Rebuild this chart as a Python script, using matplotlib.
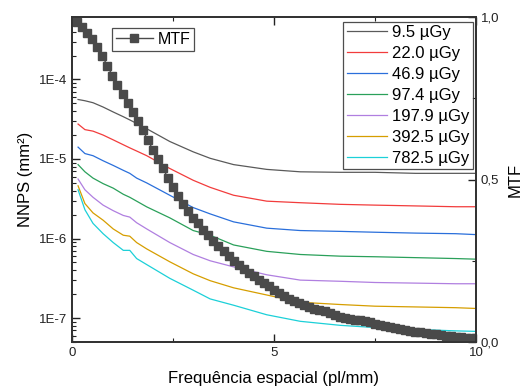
import matplotlib
matplotlib.use("Agg")
import matplotlib.pyplot as plt
from matplotlib.ticker import LogLocator, FixedLocator, NullFormatter, FuncFormatter
import math

plt.rcParams['font.family'] = ['Liberation Sans', 'DejaVu Sans']

# ---------------- data ----------------
freq = [0.15, 0.32, 0.52, 0.77, 1.02, 1.27, 1.43, 1.6, 1.85, 2.42,
        3.0, 3.42, 4.0, 4.82, 5.65, 6.64, 7.5, 8.5, 9.5, 10.0]

doses = ["9.5 µGy", "22.0 µGy", "46.9 µGy", "97.4 µGy",
         "197.9 µGy", "392.5 µGy", "782.5 µGy"]

nnps_9_5 = [5.6e-5, 5.4e-5, 5.1e-5, 4.5e-5, 3.9e-5, 3.4e-5, 3.1e-5, 2.8e-5, 2.4e-5, 1.66e-5,
            1.23e-5, 1.02e-5, 8.5e-6, 7.4e-6, 6.9e-6, 6.8e-6, 6.8e-6, 6.6e-6, 6.6e-6, 6.6e-6]
nnps_22_0 = [2.75e-5, 2.34e-5, 2.24e-5, 2.0e-5, 1.74e-5, 1.51e-5, 1.38e-5, 1.26e-5, 1.10e-5, 7.6e-6,
             5.4e-6, 4.4e-6, 3.5e-6, 2.95e-6, 2.82e-6, 2.69e-6, 2.63e-6, 2.57e-6, 2.51e-6, 2.51e-6]
nnps_46_9 = [1.41e-5, 1.17e-5, 1.10e-5, 9.5e-6, 8.3e-6, 7.2e-6, 6.6e-6, 5.75e-6, 5.0e-6, 3.5e-6,
             2.45e-6, 2.04e-6, 1.62e-6, 1.35e-6, 1.26e-6, 1.23e-6, 1.20e-6, 1.17e-6, 1.15e-6, 1.12e-6]
nnps_97_4 = [8.5e-6, 6.9e-6, 5.75e-6, 4.9e-6, 4.3e-6, 3.6e-6, 3.3e-6, 2.95e-6, 2.5e-6, 1.82e-6,
             1.26e-6, 1.10e-6, 8.3e-7, 6.9e-7, 6.3e-7, 6.0e-7, 5.9e-7, 5.75e-7, 5.6e-7, 5.5e-7]
nnps_197_9 = [5.6e-6, 4.1e-6, 3.3e-6, 2.63e-6, 2.24e-6, 1.95e-6, 1.86e-6, 1.58e-6, 1.32e-6, 8.9e-7,
              6.3e-7, 5.25e-7, 4.4e-7, 3.5e-7, 3.0e-7, 2.9e-7, 2.8e-7, 2.75e-7, 2.7e-7, 2.7e-7]
nnps_392_5 = [4.6e-6, 2.75e-6, 2.1e-6, 1.7e-6, 1.32e-6, 1.10e-6, 1.07e-6, 8.9e-7, 7.4e-7, 5.1e-7,
              3.6e-7, 2.95e-7, 2.4e-7, 1.95e-7, 1.58e-7, 1.48e-7, 1.41e-7, 1.38e-7, 1.35e-7, 1.32e-7]
nnps_782_5 = [4.1e-6, 2.3e-6, 1.55e-6, 1.15e-6, 8.9e-7, 7.1e-7, 7.1e-7, 5.6e-7, 4.7e-7, 3.16e-7,
              2.24e-7, 1.74e-7, 1.45e-7, 1.10e-7, 9.1e-8, 8.1e-8, 7.6e-8, 7.2e-8, 6.9e-8, 6.8e-8]

nnps_series = [nnps_9_5, nnps_22_0, nnps_46_9, nnps_97_4, nnps_197_9, nnps_392_5, nnps_782_5]
colors = ['#5a5a5a', '#f23c3c', '#2a6fdb', '#2aa05a', '#b07fe0', '#d69e00', '#1cd0d8']

mtf_freq = [i * 0.125 for i in range(81)]
mtf = [1.000, 0.985, 0.970, 0.952, 0.932, 0.908, 0.880, 0.850, 0.820, 0.792,
       0.764, 0.736, 0.708, 0.680, 0.652, 0.622, 0.592, 0.563, 0.534, 0.505,
       0.476, 0.450, 0.425, 0.402, 0.382, 0.366, 0.346, 0.330, 0.312, 0.295,
       0.280, 0.265, 0.250, 0.238, 0.224, 0.212, 0.202, 0.192, 0.182, 0.172,
       0.160, 0.150, 0.141, 0.133, 0.126, 0.119, 0.113, 0.108, 0.103, 0.098,
       0.094, 0.089, 0.083, 0.078, 0.074, 0.071, 0.069, 0.067, 0.065, 0.061,
       0.056, 0.051, 0.048, 0.045, 0.043, 0.040, 0.037, 0.034, 0.032, 0.030,
       0.028, 0.026, 0.024, 0.021, 0.019, 0.017, 0.015, 0.014, 0.013, 0.012,
       0.011]

# ---------------- figure ----------------
fig = plt.figure(figsize=(5.24, 3.91), dpi=100)
ax = fig.add_axes([72/524, 1-342/391, 404/524, 325/391])
ax2 = ax.twinx()

lines = []
for vals, lab, c in zip(nnps_series, doses, colors):
    ln, = ax.plot(freq, vals, color=c, lw=0.9, label=lab)
    lines.append(ln)

ax.set_yscale('log')
ax.set_xlim(0, 10)
ax.set_ylim(5.0e-8, 6.1e-4)

mln, = ax2.plot(mtf_freq, mtf, color='#4a4a4a', lw=1.0, marker='s', ms=5.3,
                mec='#4a4a4a', mfc='#4a4a4a', label='MTF')
ax2.set_ylim(0, 1)

# ticks
ax.xaxis.set_major_locator(FixedLocator([0, 5, 10]))
ax.xaxis.set_minor_locator(FixedLocator([2.5, 7.5]))
ax.yaxis.set_major_locator(LogLocator(base=10, numticks=20))
ax.yaxis.set_minor_locator(LogLocator(base=10, subs=range(2, 10), numticks=20))
ax.yaxis.set_minor_formatter(NullFormatter())

def sci(v, pos):
    e = int(round(math.log10(v)))
    return "1E%d" % e
ax.yaxis.set_major_formatter(FuncFormatter(sci))

ax2.yaxis.set_major_locator(FixedLocator([0, 0.5, 1.0]))
ax2.yaxis.set_minor_locator(FixedLocator([0.25, 0.75]))
ax2.yaxis.set_major_formatter(FuncFormatter(lambda v, p: ("%.1f" % v).replace('.', ',')))

ax.tick_params(which='both', direction='in', top=True, right=False, labelsize=9.5, colors='#222222')
ax.tick_params(which='major', length=6, width=1.0)
ax.tick_params(which='minor', length=3, width=0.8)
ax2.tick_params(which='both', direction='in', labelsize=9.5, colors='#222222')
ax2.tick_params(which='major', length=6, width=1.0)
ax2.tick_params(which='minor', length=3, width=0.8)
for a in (ax, ax2):
    for s in a.spines.values():
        s.set_linewidth(1.3)
        s.set_color('#333333')

ax.set_xlabel("Frequência espacial (pl/mm)", fontsize=12, labelpad=9)
ax.set_ylabel("NNPS (mm²)", fontsize=12, labelpad=4)
ax2.set_ylabel("MTF", fontsize=12, labelpad=6)

leg1 = ax2.legend(handles=lines, loc='upper right', bbox_to_anchor=(0.993, 0.986),
                  fontsize=12, frameon=True, fancybox=False, handlelength=2.4,
                  handletextpad=0.35, borderpad=0.2, labelspacing=0.36, borderaxespad=0)
leg1.get_frame().set_edgecolor('#222222')
leg1.get_frame().set_linewidth(0.9)
ax2.add_artist(leg1)

leg2 = ax2.legend(handles=[mln], loc='upper left', bbox_to_anchor=(0.099, 0.966),
                  fontsize=11.5, frameon=True, fancybox=False, handlelength=2.3,
                  handletextpad=0.3, borderpad=0.25, borderaxespad=0)
leg2.get_frame().set_edgecolor('#222222')
leg2.get_frame().set_linewidth(0.9)

fig.savefig("out.png", dpi=100)
